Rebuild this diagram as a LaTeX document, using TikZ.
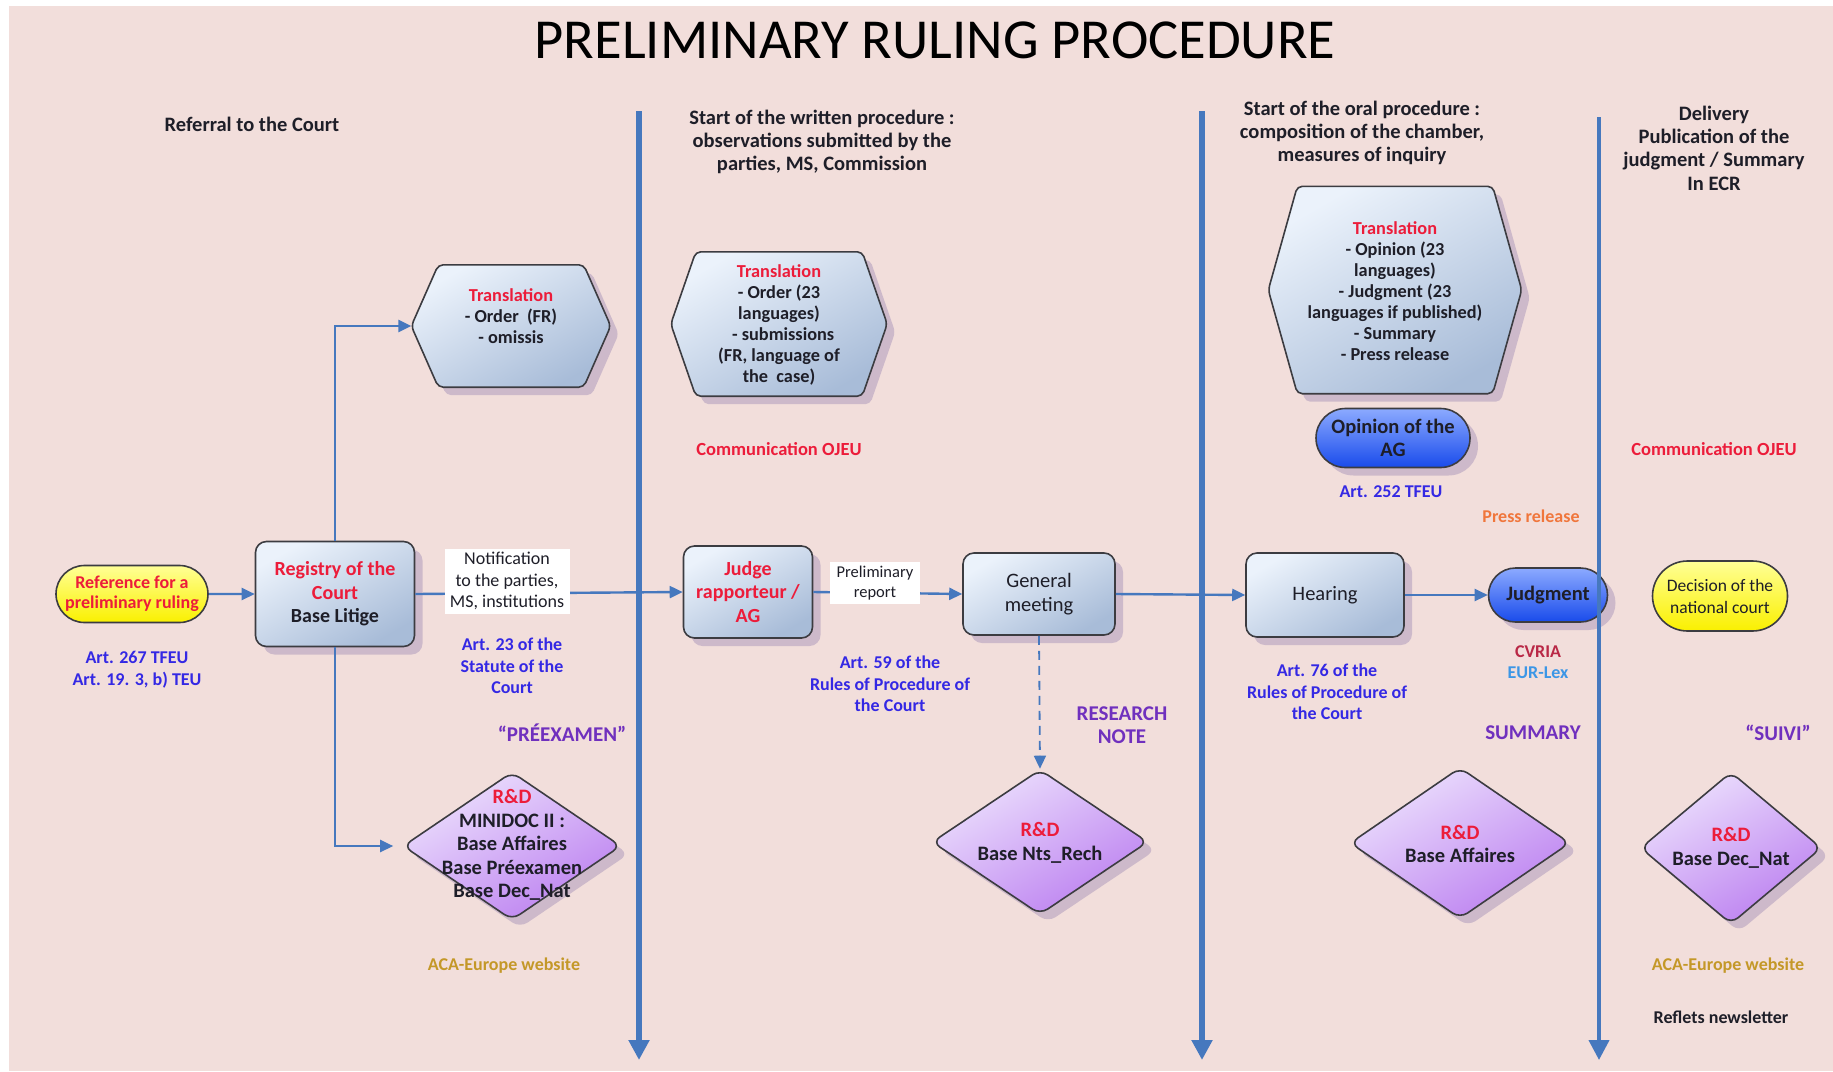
\documentclass[tikz,border=0pt]{standalone}
\usepackage{fontspec}
\setmainfont{Carlito}
\usetikzlibrary{arrows.meta,shapes.geometric,shapes.misc,shadows,calc}
\definecolor{bgpink}{RGB}{242,222,219}
\definecolor{linecol}{RGB}{70,120,190}
\definecolor{boxborder}{RGB}{60,60,65}
\definecolor{boxtop}{RGB}{235,242,251}
\definecolor{boxbot}{RGB}{168,188,216}
\definecolor{diatop}{RGB}{236,224,253}
\definecolor{diabot}{RGB}{188,128,240}
\definecolor{bluetop}{RGB}{140,170,255}
\definecolor{bluebot}{RGB}{25,75,235}
\definecolor{yeltop}{RGB}{255,255,150}
\definecolor{yelbot}{RGB}{250,240,0}
\definecolor{shadowcol}{RGB}{190,170,195}
\definecolor{redtxt}{RGB}{236,28,58}
\definecolor{arttxt}{RGB}{52,40,228}
\definecolor{purptxt}{RGB}{112,48,190}
\definecolor{goldtxt}{RGB}{196,152,40}
\definecolor{orangetxt}{RGB}{240,118,60}
\definecolor{cvriatxt}{RGB}{185,40,70}
\definecolor{eurtxt}{RGB}{60,150,230}
\definecolor{darktxt}{RGB}{30,30,40}
\newcommand\fnhead{\bfseries\fontsize{20.5}{23.4}\selectfont}
\newcommand\fnart{\bfseries\fontsize{18}{21.6}\selectfont}
\newcommand\fnbox{\bfseries\fontsize{20}{23.4}\selectfont}
\newcommand\fnhex{\bfseries\fontsize{18.3}{21}\selectfont}
\newcommand\fnwhite{\fontsize{18}{21.6}\selectfont}
\newcommand\fnpurp{\bfseries\fontsize{21}{23.4}\selectfont}
\newcommand\fndia{\bfseries\fontsize{20.5}{23.4}\selectfont}
\tikzset{
  shad/.style={drop shadow={shadow xshift=8pt,shadow yshift=-8pt,fill=shadowcol,opacity=0.7}},
  procbox/.style={shape=rectangle,draw=boxborder,line width=1.6pt,rounded corners=11pt,
    top color=boxtop,bottom color=boxbot,shading angle=30,shad,align=center,inner sep=2pt,text=darktxt,font=\fnbox},
  hexframe/.style={shape=rectangle,inner sep=0pt},
  hexfill/.style={draw=boxborder,line width=1.6pt,rounded corners=5pt,
    top color=boxtop,bottom color=boxbot,shading angle=30,shad},
  hextext/.style={align=center,text=darktxt,font=\fnhex},
  dia/.style={shape=diamond,draw=boxborder,line width=1.6pt,rounded corners=9pt,inner sep=0pt,
    top color=diatop,bottom color=diabot,shading angle=30,shad},
  diatext/.style={align=center,text=darktxt,font=\fndia},
  blueoval/.style={shape=rounded rectangle,draw=boxborder,line width=1.6pt,
    top color=bluetop,bottom color=bluebot,shad,align=center,text=darktxt,font=\fndia,inner sep=1pt},
  yeloval/.style={shape=rounded rectangle,draw=boxborder,line width=1.6pt,
    top color=yeltop,bottom color=yelbot,shading angle=0,align=center,inner sep=1pt},
  flow/.style={draw=linecol,line width=2.4pt,-{Triangle[length=13pt,width=12pt]}},
  phase/.style={draw=linecol,line width=5.5pt,-{Triangle[length=20pt,width=20pt]}},
  whitelab/.style={fill=white,inner sep=3pt,align=center,text=darktxt,font=\fnwhite},
  headtxt/.style={align=center,text=darktxt,font=\fnhead},
  arttext/.style={align=center,text=arttxt,font=\fnart},
  purptext/.style={align=center,text=purptxt,font=\fnpurp},
  redlab/.style={align=center,text=redtxt,font=\bfseries\fontsize{18.5}{22}\selectfont},
  goldlab/.style={align=center,text=goldtxt,font=\fnart},
}
\begin{document}
\begin{tikzpicture}[x=1pt,y=-1pt]
% canvas
\fill[white] (0,0) rectangle (1833,1071);
\fill[bgpink] (9,6) rectangle (1833,1071);
\useasboundingbox (0,0) rectangle (1833,1071);

% title and phase headers
\node[text=black,font=\fontsize{56.5}{60}\selectfont] (title) at (935,40) {PRELIMINARY RULING PROCEDURE};
\node[headtxt] (h1) at (252,124) {Referral to the Court};
\node[headtxt] (h2) at (822,142) {Start of the written procedure :\\observations submitted by the\\parties, MS, Commission};
\node[headtxt] (h3) at (1362,133) {Start of the oral procedure :\\composition of the chamber,\\measures of inquiry};
\node[headtxt] (h4) at (1714,148) {Delivery\\Publication of the\\judgment / Summary\\In ECR};

% ---------- hexagons (translation) ----------
\node[hexframe,minimum width=199pt,minimum height=122pt] (hx1) at (511,326) {};
\draw[hexfill] (hx1.west) -- ([xshift=27pt]hx1.north west) -- ([xshift=-27pt]hx1.north east)
  -- (hx1.east) -- ([xshift=-27pt]hx1.south east) -- ([xshift=27pt]hx1.south west) -- cycle;
\node[hextext] (hx1t) at (511,316) {\textcolor{redtxt}{Translation}\\- Order~~(FR)\\- omissis};

\node[hexframe,minimum width=216pt,minimum height=144pt] (hx2) at (779,324) {};
\draw[hexfill] (hx2.west) -- ([xshift=25pt]hx2.north west) -- ([xshift=-25pt]hx2.north east)
  -- (hx2.east) -- ([xshift=-25pt]hx2.south east) -- ([xshift=25pt]hx2.south west) -- cycle;
\node[hextext] (hx2t) at (779,325) {\textcolor{redtxt}{Translation}\\- Order (23\\languages)\\~~- submissions\\(FR, language of\\the~~case)};

\node[hexframe,minimum width=253pt,minimum height=207pt] (hx3) at (1395,290) {};
\draw[hexfill] (hx3.west) -- ([xshift=29pt]hx3.north west) -- ([xshift=-29pt]hx3.north east)
  -- (hx3.east) -- ([xshift=-29pt]hx3.south east) -- ([xshift=29pt]hx3.south west) -- cycle;
\node[hextext] (hx3t) at (1395,291) {\textcolor{redtxt}{Translation}\\- Opinion (23\\languages)\\- Judgment (23\\languages if published)\\- Summary\\- Press release};

% ---------- main flow nodes ----------
\node[yeloval,minimum width=154pt,minimum height=57pt,text=redtxt,font=\bfseries\fontsize{18}{20}\selectfont] (ref) at (132,594) {Reference for a\\preliminary ruling};
\node[procbox,minimum width=159pt,minimum height=105pt] (reg) at (335,594) {\textcolor{redtxt}{Registry of the}\\\textcolor{redtxt}{Court}\\Base Litige};
\node[procbox,minimum width=129pt,minimum height=92pt,text=redtxt] (judge) at (748,592) {Judge\\rapporteur /\\AG};
\node[procbox,minimum width=152pt,minimum height=82pt,font=\fontsize{20.5}{23.4}\selectfont] (gm) at (1039,594) {General\\meeting};
\node[procbox,minimum width=158pt,minimum height=84pt,font=\fontsize{20.5}{23.4}\selectfont] (hear) at (1325,595) {Hearing};
\node[blueoval,minimum width=156pt,minimum height=59pt] (opin) at (1393,438) {Opinion of the\\AG};
\node[yeloval,minimum width=137pt,minimum height=70pt,text=darktxt,font=\fontsize{17.5}{22}\selectfont] (dec) at (1720,596) {Decision of the\\national court};

% ---------- diamonds ----------
\node[dia,minimum width=218pt,minimum height=148pt] (d1) at (512,846) {};
\node[diatext] (d1t) at (512,845) {\textcolor{redtxt}{R\&D}\\MINIDOC II :\\Base Affaires\\Base Préexamen\\Base Dec\_Nat};
\node[dia,minimum width=216pt,minimum height=145pt] (d2) at (1040,842) {};
\node[diatext] (d2t) at (1040,843) {\textcolor{redtxt}{R\&D}\\Base Nts\_Rech};
\node[dia,minimum width=220pt,minimum height=151pt] (d3) at (1460,843) {};
\node[diatext] (d3t) at (1460,844) {\textcolor{redtxt}{R\&D}\\Base Affaires};
\node[dia,minimum width=181pt,minimum height=152pt] (d4) at (1731,848) {};
\node[diatext] (d4t) at (1731,848) {\textcolor{redtxt}{R\&D}\\Base Dec\_Nat};

% ---------- connectors ----------
\draw[flow] (ref) -- (reg);
\draw[flow] (reg.east) -- (judge.west);
\draw[flow] (reg.north) |- (hx1.west);
\draw[flow,shorten >=9pt] (reg.south) |- (d1.west);
\draw[flow] (judge.east) -- (gm.west);
\draw[flow,dashed,dash pattern=on 9pt off 6pt,line width=1.8pt] (gm.south) -- (d2.north);
\draw[flow] (gm.east) -- (hear.west);

% white labels on the flow
\node[whitelab,minimum width=125pt,minimum height=65pt] (notif) at (507,581) {Notification\\to the parties,\\MS, institutions};
\node[whitelab,minimum width=90pt,minimum height=42pt,font=\fontsize{16.5}{20}\selectfont] (prel) at (875,583) {Preliminary\\report};

% ---------- phase separators ----------
\coordinate (v1a) at (639,111); \coordinate (v1b) at (639,1060);
\coordinate (v2a) at (1202,111); \coordinate (v2b) at (1202,1060);
\coordinate (v3a) at (1599,117); \coordinate (v3b) at (1599,1060);
\draw[phase] (v1a) -- (v1b);
\draw[phase] (v2a) -- (v2b);

% judgment oval crosses the last separator
\node[blueoval,minimum width=121pt,minimum height=54pt] (judg) at (1548,595) {Judgment};
\draw[flow] (hear.east) -- (judg.west);
\draw[phase,line width=4pt] (v3a) -- (v3b);

% ---------- labels ----------
\node[arttext] (a267) at (137,670) {Art. 267 TFEU\\Art. 19. 3, b) TEU};
\node[arttext] (a23) at (512,666) {Art. 23 of the\\Statute of the\\Court};
\node[purptext] (preex) at (562,733) {“PRÉEXAMEN”};
\node[goldlab] (aca1) at (504,966) {ACA-Europe website};
\node[redlab] (comm1) at (779,449) {Communication OJEU};
\node[arttext] (a59) at (890,684) {Art. 59 of the\\Rules of Procedure of\\the Court};
\node[purptext] (rnote) at (1122,725) {RESEARCH\\NOTE};
\node[arttext] (a252) at (1391,492) {Art. 252 TFEU};
\node[align=center,text=orangetxt,font=\fnart] (press) at (1531,516) {Press release};
\node[arttext] (a76) at (1327,692) {Art. 76 of the\\Rules of Procedure of\\the Court};
\node[align=center,text=cvriatxt,font=\fnart] (cvria) at (1538,652) {CVRIA};
\node[align=center,text=eurtxt,font=\fnart] (eurlex) at (1538,673) {EUR-Lex};
\node[purptext] (summ) at (1533,733) {SUMMARY};
\node[redlab] (comm2) at (1714,449) {Communication OJEU};
\node[purptext] (suivi) at (1778,733) {“SUIVI”};
\node[goldlab] (aca2) at (1728,966) {ACA-Europe website};
\node[align=center,text=darktxt,font=\fnart] (refl) at (1721,1017) {Reflets newsletter};
\end{tikzpicture}
\end{document}
